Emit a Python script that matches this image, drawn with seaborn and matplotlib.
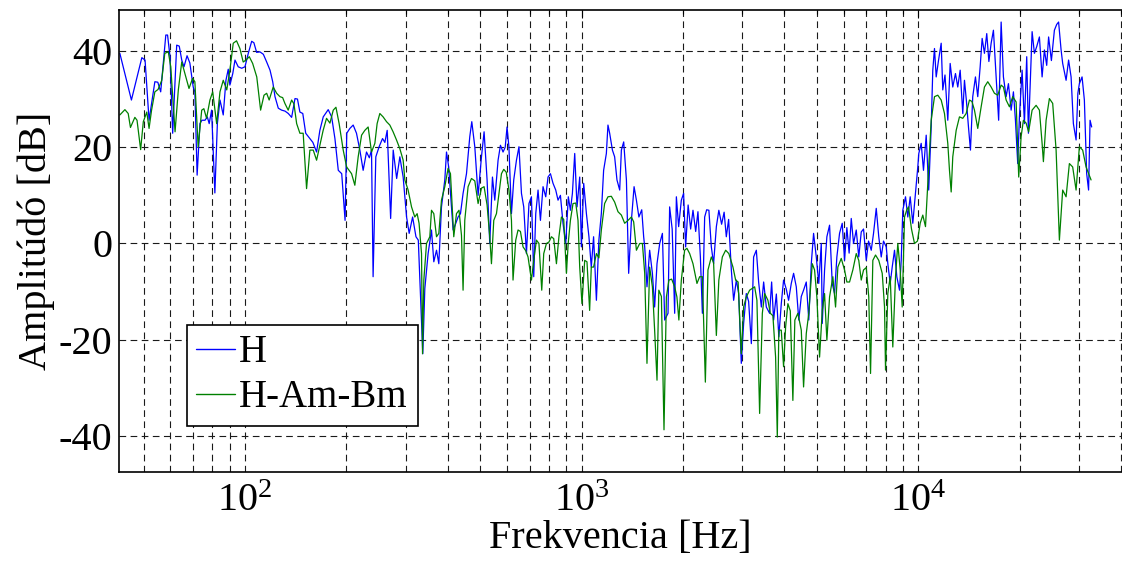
import pandas as pd
import seaborn as sns
import matplotlib.pyplot as plt
from matplotlib.lines import Line2D

# H: frequency [Hz] and amplitude [dB]
h_freq = [42.5, 46.0, 49.4, 50.5, 51.9, 54.0, 55.1, 56.2, 58.2, 58.9, 59.9, 61.0, 62.7, 63.8, 64.9, 65.9,
          67.3, 68.6, 70.2, 71.0, 72.1, 73.5, 74.5, 76.1, 77.3, 78.3, 79.6, 81.4, 82.8, 84.3, 86.2, 87.8,
          89.2, 90.2, 92.0, 93.4, 95.5, 97.8, 100, 102.3, 104.7, 106.3, 108.3, 110.8, 113.4, 116.0, 118.7,
          120.9, 122.8, 125.6, 128.5, 131.5, 134.5, 137.6, 140.8, 143.2, 145.6, 148.5, 151.5, 155.9, 159.1,
          163.2, 166.9, 170.8, 176.7, 180.9, 185.0, 189.3, 193.8, 198.3, 200.6, 204.9, 209.6, 214.4, 219.4,
          224.4, 229.6, 234.1, 237.6, 240.2, 244.7, 250.3, 256.2, 260.3, 264.5, 270.8, 275.6, 282.2, 288.4,
          295.0, 302.0, 307.4, 314.7, 322.0, 327.2, 337.4, 342.1, 349.9, 358.1, 363.8, 370.6, 376.5, 383.4,
          392.2, 396.8, 402.7, 410.5, 415.1, 422.8, 429.5, 436.6, 444.4, 454.9, 465.3, 471.7, 481.5, 492.5,
          504.0, 513.1, 523.7, 533.4, 543.3, 552, 564.6, 573.8, 584.1, 592.8, 600.3, 608, 618.7, 628.4,
          640.2, 651.3, 662.5, 672.9, 685.5, 697.4, 709.3, 720.5, 730.5, 742.1, 754.3, 767.8, 782.2, 794.5,
          807.7, 822.1, 837.5, 850.7, 864.7, 880.2, 896.7, 912.8, 925.9, 938.6, 953.6, 968.7, 986.7, 998.2,
          1014, 1033, 1051, 1068, 1085, 1106, 1125, 1144, 1162, 1184, 1197, 1211, 1234, 1253, 1273, 1297,
          1312, 1333, 1358, 1379, 1405, 1431, 1454, 1479, 1508, 1528, 1539, 1563, 1592, 1622, 1647, 1674,
          1705, 1737, 1764, 1805, 1825, 1857, 1889, 1911, 1941, 1977, 2008, 2036, 2071, 2107, 2141, 2181,
          2215, 2252, 2283, 2319, 2351, 2387, 2427, 2465, 2512, 2555, 2604, 2649, 2689, 2732, 2783, 2827,
          2880, 2926, 2979, 3027, 3083, 3132, 3191, 3241, 3302, 3354, 3417, 3471, 3535, 3616, 3666, 3716,
          3786, 3851, 3916, 3978, 4053, 4117, 4193, 4260, 4339, 4414, 4490, 4561, 4646, 4726, 4808, 4884,
          4975, 5061, 5148, 5183, 5265, 5349, 5448, 5549, 5638, 5727, 5833, 5941, 6036, 6132, 6228, 6319,
          6419, 6539, 6652, 6766, 6873, 7002, 7113, 7245, 7359, 7497, 7627, 7757, 7879, 8027, 8115, 8248,
          8362, 8495, 8629, 8790, 8893, 8990, 9158, 9303, 9456, 9626, 9805, 9961, 10030, 10195, 10356,
          10550, 10732, 10916, 11036, 11165, 11296, 11475, 11688, 11816, 11997, 12228, 12429, 12652, 12888,
          13092, 13309, 13547, 13706, 13894, 14086, 14279, 14504, 14775, 15009, 15258, 15467, 15713, 15962,
          16196, 16448, 16708, 17020, 17315, 17612, 17890, 18224, 18513, 18857, 19155, 19422, 19728, 19957,
          20328, 20652, 20979, 21224, 21517, 21767, 22113, 22463, 22880, 23306, 23676, 24051, 24367, 24836,
          25350, 25752, 26090, 26538, 26829, 27461, 27936, 28415, 28864, 29403, 29763, 30072, 30631, 31118,
          31612, 32027, 32353, 32711]
h_db = [39.5, 29.8, 38.6, 38.1, 25.6, 33.6, 33.5, 31.5, 43.3, 43.3, 38.8, 22.9, 41.2, 41.0, 38.1, 36.7,
        39.0, 37.5, 32.5, 31.5, 14.2, 24.9, 25.6, 25.6, 26.3, 24.9, 27.7, 10.5, 24.9, 29.8, 26.7, 33.9,
        36.2, 32.9, 35.3, 38.1, 36.7, 36.4, 36.7, 39.5, 42.0, 41.7, 39.7, 39.8, 39.3, 37.7, 36.0,
        33.6, 30.5, 28.1, 27.7, 27.5, 27.0, 26.2, 30.1, 30.0, 27.3, 27.0, 22.9, 21.8, 21.0,
        19.0, 23.5, 26.3, 27.8, 26.3, 21.8, 15.2, 14.5, 4.8, 22.9, 23.9, 24.6, 22.9, 19.4,
        15.2, 19.0, 17.8, 19.4, -6.9, 18.0, 20.1, 21.8, 21.0, 23.5, 5.2, 19.4, 13.5, 18.0,
        13.8, 5.5, 2.1, 5.5, 1.4, 0.7, -22.9, -9.4, -2.1, 2.8, -3.8, -1.4, -4.2, 7.6,
        13.2, 19.0, 15.9, 7.6, 2.8, 4.2, 5.5, 6.2, 10.4, 14.5, 22.2, 25.3, 20.1, 10.0,
        18.0, 23.2, 13.2, 0.0, 13.8, 9.0, 17.3, 20.4, 19.0, 20.0, 24.2, 20.1, 6.2, 13.2,
        17.3, 20.1, 10.4, 7.6, -2.1, 8.3, 9.7, -6.9, 6.2, 11.1, 4.8, 11.8, 9.7, 13.8,
        14.5, 12.5, 11.1, 9.0, 10.0, 4.2, 0.0, 9.7, 6.9, 10.4, 18.7, 7.6, 13.8, -0.7,
        12.5, 6.2, 1.4, -4.9, 1.4, -11.8, 0.7, 6.2, 15.2, 18.7, 24.6, 22.9, 19.4, 18.0, 13.2, 11.1,
        19.4, 21.1, 13.2, -6.2, 4.8, 11.8, 9.0, 5.5, 7.0, 1.4, -0.7, -9.0, -1.4, -6.2, -13.2, -4.2,
        0.0, 2.1, -15.9, -14.5, 7.6, 3.0, -14.5, 9.7, 3.5, 9.0, 10.4, -0.7, 8.0, 3.0, 6.9, 2.5,
        6.6, -2.8, -14.5, 5.5, 7.0, 6.9, -0.7, -4.2, 3.5, 6.9, 4.0, 6.5, 1.4, 5.0, -5.5, -11.8,
        -7.6, -10.4, -24.9, -16.6, -10.4, -12.0, -20.8, -2.8, -1.4, -8.0, -13.2, -8.0, -13.2, -14.5, -8.0, -15.9,
        -10.5, -19.4, -12.5, -7.6, -9.5, -11.8, -8.3, -6.2, -9.0, -15.9, -11.0, -9.7, -8.0, -15.9, -4.2, 2.1,
        -2.8, -8.3, 0.0, -16.6, -5.5, 1.4, 3.8, -8.3, -10.4, -2.8, 2.1, 4.2, -3.5, 3.3, -2.0, 5.2,
        0.0, 2.8, -2.8, 2.4, 3.0, -3.5, 0.5, -1.4, 2.1, 7.3, 1.4, -2.8, 0.5, -0.7, -4.2, -8.3,
        -4.9, -1.4, -6.9, -9.7, -3.5, 6.9, 9.7, 5.5, 9.7, 4.2, 10.4, 15.9, 18.7, 20.8, 15.2,
        22.5, 11.1, 24.2, 36.0, 40.5, 34.6, 38.0, 41.6, 31.9, 35.0, 25.6, 37.4, 32.5, 35.3,
        32.5, 36.0, 27.0, 33.9, 29.5, 24.2, 19.4, 30.5, 34.6, 30.5, 36.7, 42.6, 39.5, 43.6,
        37.8, 41.6, 44.3, 34.6, 25.6, 46.0, 34.6, 30.5, 33.2, 27.7, 31.5, 25.6, 16.6, 26.3,
        36.0, 24.9, 38.8, 22.9, 34.6, 44.0, 39.5, 40.9, 42.9, 34.6, 40.2, 37.0, 42.9, 38.0,
        44.3, 45.5, 46.0, 40.2, 37.4, 33.9, 38.1, 34.6, 24.9, 21.5, 31.2, 33.2, 34.6, 29.8,
        14.5, 11.1, 25.6, 24.2]

# H-Am-Bm
g_freq = [42.5, 44.0, 45.0, 45.7, 47.1, 47.8, 49.0, 49.9, 51.1, 51.9, 52.8, 54.0, 55.2, 56.6, 57.8, 59.2,
          60.2, 62.0, 63.4, 64.9, 66.3, 68.2, 69.9, 71.0, 72.6, 74.4, 75.5, 76.9, 78.7, 80.2, 82.4, 84.3,
          86.2, 88.3, 90.2, 92.3, 94.4, 96.6, 98.8, 100.7, 103.0, 105.4, 108.4, 111.3, 113.9, 116.0, 118.0,
          121.3, 124.2, 127.0, 129.4, 131.4, 134.4, 137.6, 139.8, 142.4, 145.6, 148.9, 152.4, 155.9, 159.5,
          163.2, 166.9, 170.7, 174.7, 178.8, 182.9, 186.3, 190.4, 195.8, 200.4, 207.3, 212.0, 216.9, 222.0,
          227.0, 232.2, 237.6, 243.1, 246.9, 251.5, 257.2, 263.3, 269.3, 275.4, 281.9, 288.4, 295.0, 298.4,
          305.2, 312.4, 319.5, 324.6, 328.9, 334.5, 336.8, 339.8, 346.1, 354.0, 358.1, 363.8, 370.6, 376.5,
          383.4, 392.2, 401.1, 407.7, 417.0, 424.8, 432.2, 439.6, 444.4, 449.6, 459.9, 470.7, 481.5, 492.5,
          504.0, 513.1, 523.7, 533.4, 539.6, 548.2, 558.4, 568.1, 577.8, 586.9, 597.1, 608.2, 618.7, 625.4,
          637.1, 647.2, 657.9, 669.7, 682.2, 693.0, 709.3, 720.5, 734.0, 746.7, 761.1, 771.5, 785.9, 799.5,
          813.2, 826.1, 841.5, 856.0, 870.7, 884.4, 901.0, 912.0, 925.9, 942.5, 960.2, 975.3, 986.7, 1002,
          1021, 1037, 1056, 1068, 1085, 1106, 1125, 1144, 1170, 1197, 1225, 1253, 1282, 1312, 1342, 1373,
          1405, 1427, 1454, 1487, 1515, 1539, 1563, 1592, 1622, 1647, 1674, 1695, 1725, 1756, 1785, 1816,
          1850, 1889, 1918, 1944, 1977, 2022, 2054, 2093, 2141, 2200, 2241, 2283, 2330, 2372, 2427, 2465,
          2512, 2555, 2617, 2677, 2736, 2814, 2866, 2915, 2979, 3027, 3083, 3154, 3264, 3315, 3377, 3440,
          3495, 3574, 3633, 3698, 3767, 3811, 3851, 3916, 3978, 4034, 4097, 4165, 4239, 4297, 4387, 4490,
          4561, 4646, 4726, 4840, 4917, 4995, 5088, 5183, 5265, 5349, 5448, 5572, 5676, 5766, 5901, 6036,
          6132, 6246, 6388, 6539, 6652, 6766, 6873, 7002, 7123, 7210, 7324, 7461, 7627, 7810, 7934, 7988,
          8115, 8248, 8396, 8553, 8688, 8832, 8953, 9096, 9240, 9348, 9541, 9739, 9938, 10125, 10307,
          10499, 10666, 10916, 11165, 11420, 11688, 11955, 12228, 12370, 12515, 12652, 12950, 13245, 13547,
          13866, 14181, 14426, 14675, 15009, 15363, 15713, 16072, 16448, 16824, 17208, 17612, 17890, 18224,
          18639, 19064, 19513, 19862, 20190, 20510, 20893, 21254, 21767, 22371, 22880, 23306, 23514, 23953,
          24498, 25057, 25647, 26231, 26829, 27461, 28086, 28726, 29403, 30072, 30758, 31482, 32576]
g_db = [26.7, 27.8, 27.0, 24.1, 26.2, 25.6, 19.5, 25.3, 27.3, 23.9, 27.7, 31.5, 32.0, 33.9, 39.5, 39.8,
        36.7, 23.2, 31.9, 37.7, 35.3, 32.2, 34.3, 33.6, 20.1, 27.7, 28.0, 26.0, 29.8, 31.5, 24.9, 31.5,
        33.9, 31.9, 36.0, 41.6, 42.1, 40.5, 37.7, 38.1, 38.8, 37.4, 34.6, 27.7, 30.8, 31.2, 29.8,
        32.5, 31.2, 30.5, 30.3, 29.1, 27.7, 29.8, 29.0, 24.9, 22.9, 22.9, 11.4, 19.4, 19.4,
        17.3, 20.4, 23.5, 26.0, 25.0, 27.7, 28.3, 24.9, 19.4, 15.9, 14.5, 12.1, 18.0, 22.5,
        23.5, 24.2, 19.0, 20.8, 24.9, 27.0, 26.3, 25.3, 24.6, 23.2, 21.5, 19.7, 17.3, 13.2,
        11.1, 7.6, 5.5, 6.2, 4.2, -2.1, -22.9, -7.6, 0.0, 1.4, 6.9, 6.2, 1.4, 2.1,
        9.0, 11.8, 15.6, 14.5, 1.4, 6.2, 6.9, 1.7, -9.7, 4.8, 11.8, 13.5, 13.0, 8.3,
        11.5, 11.8, 8.0, 1.4, -4.2, 4.8, 6.2, 10.4, 14.5, 15.4, 14.8, 11.1, 4.8, -7.6,
        0.7, 2.8, 2.5, -0.7, -1.5, -2.8, -7.6, -3.5, 0.7, 0.0, -9.7, -2.1, 0.0, 0.3,
        1.4, 1.0, -4.2, 1.4, 5.5, 5.0, -6.2, 0.0, 4.8, 8.3, 8.4, 4.8, -4.9, -12.5,
        -3.5, -3.8, -13.9, -4.9, -4.9, -2.1, -3.0, 2.8, 8.3, 9.7, 9.8, 8.6, 6.6, 5.9, 4.2, 4.8,
        5.5, 4.5, -1.4, 0.0, 0.0, -6.2, -24.9, -4.9, -9.0, -18.0, -28.4, -9.7, -11.0, -38.7, -11.1, -7.6,
        -7.4, -9.0, -11.1, -15.9, -7.6, -1.4, -1.0, -2.1, -4.2, -8.3, -6.9, -6.9, -28.8, -5.5, -2.8, -4.0,
        -19.1, -7.6, -2.8, -1.4, -2.1, -4.9, -7.6, -8.0, -22.9, -13.2, -11.1, -9.7, -9.0, -11.8, -35.3, -14.5,
        -10.4, -11.8, -14.5, -15.0, -23.6, -40.2, -18.0, -18.0, -25.6, -17.3, -12.5, -14.0, -32.6, -15.9, -14.5, -18.0,
        -29.8, -18.7, -14.5, -4.2, -5.5, -11.1, -23.6, -13.9, -10.4, -20.1, -11.1, -6.9, -13.2, -4.9, -3.1, -5.5,
        -8.0, -8.0, -5.5, -2.1, -3.5, -7.6, -5.5, -5.0, -11.1, -27.0, -3.5, -2.4, -3.5, -6.2, -13.2, -26.3,
        -10.4, -6.9, -21.5, -6.9, 0.0, -5.5, -13.2, 5.5, 7.0, 7.6, 3.0, 0.0, 0.5, 4.2, 5.9,
        3.5, 12.5, 25.6, 30.5, 30.8, 29.8, 27.0, 20.8, 15.2, 10.7, 18.0, 23.5, 26.3, 26.0,
        27.0, 29.8, 29.5, 27.7, 23.9, 28.4, 32.5, 33.6, 32.5, 31.2, 30.8, 32.9, 32.5, 29.8,
        28.4, 30.5, 29.4, 13.8, 22.2, 25.6, 25.0, 23.2, 27.7, 28.7, 27.7, 20.8, 17.0, 25.6,
        30.1, 29.1, 19.4, 0.7, 11.1, 9.7, 16.6, 15.9, 11.1, 20.1, 19.4, 15.9, 13.2]

series_names = ["H", "H-Am-Bm"]
series_colors = ["#0000ff", "#008000"]
y_ticks = [-40, -20, 0, 20, 40]

sns.set_theme(style="white")
plt.rcParams["font.family"] = ["Liberation Serif", "DejaVu Serif"]
plt.rcParams["axes.unicode_minus"] = False
plt.rcParams["text.color"] = "black"
plt.rcParams["axes.labelcolor"] = "black"
plt.rcParams["xtick.color"] = "black"
plt.rcParams["ytick.color"] = "black"

df = pd.DataFrame({
    "freq": h_freq + g_freq,
    "db": h_db + g_db,
    "series": [series_names[0]] * len(h_freq) + [series_names[1]] * len(g_freq),
})

fig = plt.figure(figsize=(11.22, 5.70), dpi=100)
ax = fig.add_axes([0.1065, 0.1725, 0.8935, 0.8108])

sns.lineplot(data=df, x="freq", y="db", hue="series", hue_order=series_names,
             palette=dict(zip(series_names, series_colors)), estimator=None,
             sort=False, lw=0.9, legend=False, ax=ax)

ax.set_xscale("log")
ax.set_xlim(42.4, 40250)
ax.set_ylim(-47.4, 48.6)
ax.set_yticks(y_ticks)

grid_style = dict(color="0.1", linestyle=(0, (6, 4)), linewidth=0.8)
ax.grid(True, which="major", axis="both", **grid_style)
ax.grid(True, which="minor", axis="x", **grid_style)

ax.tick_params(axis="both", which="both", direction="in", colors="black",
               labelcolor="black", labelsize=29, top=True, right=False)
ax.tick_params(axis="both", which="major", length=6, width=0.8)
ax.tick_params(axis="both", which="minor", length=3, width=0.8)
ax.tick_params(axis="x", which="major", pad=8)
ax.tick_params(axis="y", which="major", pad=5)

for side in ["left", "bottom", "top"]:
    ax.spines[side].set_color("black")
    ax.spines[side].set_linewidth(1.2)
ax.spines["right"].set_visible(False)

ax.set_xlabel("Frekvencia [Hz]", fontsize=29, labelpad=0, color="black")
ax.set_ylabel("Amplitúdó [dB]", fontsize=29, labelpad=3, color="black")

handles = [Line2D([], [], color=c, lw=1.0) for c in series_colors]
leg = ax.legend(handles, series_names, loc="lower left", bbox_to_anchor=(0.067, 0.099),
                borderaxespad=0, fontsize=28, frameon=True, fancybox=False,
                edgecolor="black", framealpha=1, handlelength=1.0, handletextpad=0.1,
                borderpad=0.25, labelspacing=0.2, labelcolor="black")
leg.get_frame().set_linewidth(1.2)

fig.savefig("out.png", dpi=100)
